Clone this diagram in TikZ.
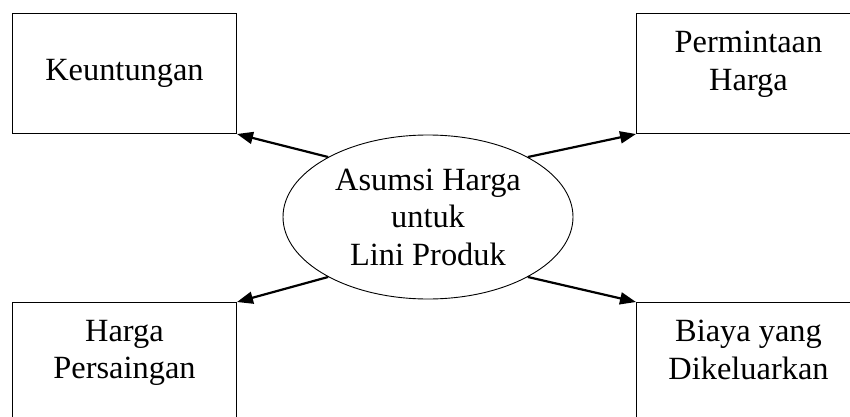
\documentclass[tikz,border=0pt]{standalone}
\usepackage{fontspec}
\setmainfont{Liberation Serif}
\usetikzlibrary{shapes.geometric,arrows.meta,positioning}
\tikzset{
    kotak/.style={draw,line width=1pt,minimum width=224pt,minimum height=120pt,inner sep=0pt},
    isi/.style={align=center,inner sep=0pt},
    asumsi/.style={draw,ellipse,line width=0.9pt,minimum width=290pt,minimum height=164pt,inner sep=0pt,align=center},
    panah/.style={line width=2.2pt,-{Triangle[length=16pt,width=12pt]}}
}
\begin{document}
\begin{tikzpicture}[x=1pt,y=1pt,font=\fontsize{32.4}{37.5}\selectfont]
    \useasboundingbox (0,0) rectangle (850,416);
    \clip (0,0) rectangle (850,416);
    \node[kotak] (untung) at (124.5,342.5) {Keuntungan};
    \node[kotak] (minta) at (748.5,342.5) {};
    \node[kotak] (saing) at (124.5,53.5) {};
    \node[kotak] (biaya) at (748.5,53.5) {};
    \node[isi,below=18pt of minta.north] {Permintaan\\Harga};
    \node[isi,below=18pt of saing.north] {Harga\\Persaingan};
    \node[isi,below=18pt of biaya.north] {Biaya yang\\Dikeluarkan};
    \node[asumsi] (harga) at (428,199) {Asumsi Harga\\untuk\\Lini Produk};
    \draw[panah] (harga.149) -- (untung.south east);
    \draw[panah] (harga.31) -- (minta.south west);
    \draw[panah] (harga.211) -- (saing.north east);
    \draw[panah] (harga.329) -- (biaya.north west);
\end{tikzpicture}
\end{document}
